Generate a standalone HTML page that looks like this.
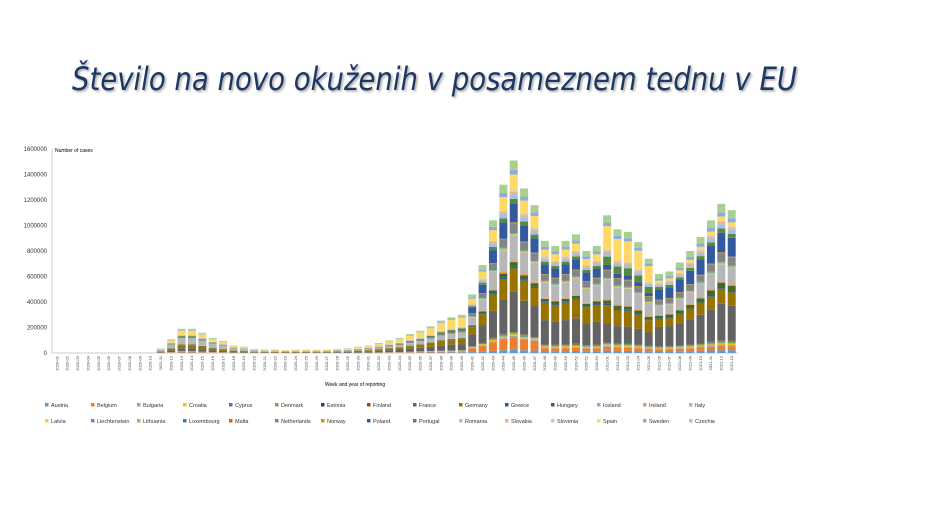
<!DOCTYPE html>
<html><head><meta charset="utf-8">
<style>
html,body{margin:0;padding:0;background:#fff;}
svg{display:block;}
</style></head>
<body>
<svg id="s" width="943" height="530" xmlns="http://www.w3.org/2000/svg" font-family="Liberation Sans, sans-serif">
<defs>
<filter id="sh" x="-5%" y="-20%" width="110%" height="140%"><feDropShadow dx="1.5" dy="1.5" stdDeviation="1" flood-color="#000" flood-opacity="0.35"/></filter>
</defs>
<text x="72" y="90" font-size="32" font-family="DejaVu Sans, sans-serif" font-style="italic" fill="#1F3864" filter="url(#sh)" textLength="725" lengthAdjust="spacingAndGlyphs">Število na novo okuženih v posameznem tednu v EU</text>
<text x="55" y="152" font-size="5">Number of cases</text>
<text x="355" y="386" font-size="5" text-anchor="middle">Week and year of reporting</text>
<line x1="52" y1="149" x2="52" y2="353" stroke="#bbb" stroke-width="0.7"/>
<line x1="52" y1="353" x2="738" y2="353" stroke="#bbb" stroke-width="0.7"/>
<g id="g"></g>
</svg>
<script>
var NS="http://www.w3.org/2000/svg",g=document.getElementById('g');
function el(t,a,txt){var e=document.createElementNS(NS,t);for(var k in a)e.setAttribute(k,a[k]);if(txt)e.textContent=txt;g.appendChild(e);return e;}
var y0=353,sc=204/1600000;
for(var v=0;v<=1600000;v+=200000){el('text',{x:47,y:y0-v*sc+2,'font-size':6,'text-anchor':'end',fill:'#333'},String(v));}
var names=["Austria","Belgium","Bulgaria","Croatia","Cyprus","Denmark","Estonia","Finland","France","Germany","Greece","Hungary","Iceland","Ireland","Italy","Latvia","Liechtenstein","Lithuania","Luxembourg","Malta","Netherlands","Norway","Poland","Portugal","Romania","Slovakia","Slovenia","Spain","Sweden","Czechia"];
var cols=["#5B9BD5","#ED7D31","#A5A5A5","#FFC000","#4472C4","#70AD47","#264478","#9E480E","#636363","#997300","#255E91","#43682B","#7CAFDD","#F1975A","#B7B7B7","#FFCD33","#698ED0","#8CC168","#327DC2","#D26012","#848484","#CC9A00","#335AA1","#5A8A39","#9DC3E6","#F4B183","#C9C9C9","#FFD966","#8FAADC","#A9D18E"];
var w=[.02,.03,.01,.01,.003,.01,.004,.003,.25,.15,.01,.03,.001,.01,.16,.004,.0005,.01,.003,.002,.06,.005,.1,.03,.03,.015,.01,.1,.03,.06];
var tot=[0,0,0,0,0,0,0,0,0,2,40,110,190,190,160,120,95,60,50,35,30,30,25,28,28,28,30,35,40,50,60,80,100,120,150,175,210,255,280,300,460,690,1040,1320,1510,1290,1160,880,840,880,930,800,840,1080,970,950,870,740,620,640,710,800,910,1040,1170,1120];
var x0=57,dx=10.38;
for(var i=0;i<66;i++){
 var cx=x0+i*dx,T=tot[i]*1000;
 var ww=w.slice();
 if(i<25){ww[14]=.3;ww[27]=.22;ww[22]=.01;ww[8]=.15;}
 else if(i<40){ww[27]=.3;ww[8]=.2;ww[22]=.03;}
 else if(i<47){ww[1]=.08;ww[19]=.0;ww[22]=.12;ww[27]=.1;}
 else if(i<53){ww[22]=.1;ww[9]=.18;ww[27]=.07;}
 else if(i<58){ww[27]=.2;ww[23]=.07;ww[9]=.15;ww[8]=.16;ww[22]=.04;}
 else {ww[22]=.14;ww[8]=.26;ww[9]=.1;ww[14]=.12;ww[27]=.03;ww[11]=.04;}
 var s=0;ww.forEach(function(a){s+=a;});
 var y=y0;
 if(T>0)for(var k=0;k<30;k++){var h=T*ww[k]/s*sc;if(h<0.05)continue;el('rect',{x:cx-4,y:y-h,width:8,height:h,fill:cols[k]});y-=h;}
 var lab=(i<53?"2020-"+("0"+(i+1)).slice(-2):"2021-"+("0"+(i-52)).slice(-2));
 el('text',{x:0,y:0,'font-size':4,fill:'#444','text-anchor':'end',transform:'translate('+(cx+1.3)+',356) rotate(-90)'},lab);
}
for(var k=0;k<30;k++){
 var r=Math.floor(k/15),c=k%15,lx=45+c*46,ly=406+r*16;
 el('rect',{x:lx,y:ly-3,width:3.5,height:3.5,fill:cols[k]});
 el('text',{x:lx+6,y:ly+1,'font-size':5.5,fill:'#333'},names[k]);
}
</script>
</body></html>
